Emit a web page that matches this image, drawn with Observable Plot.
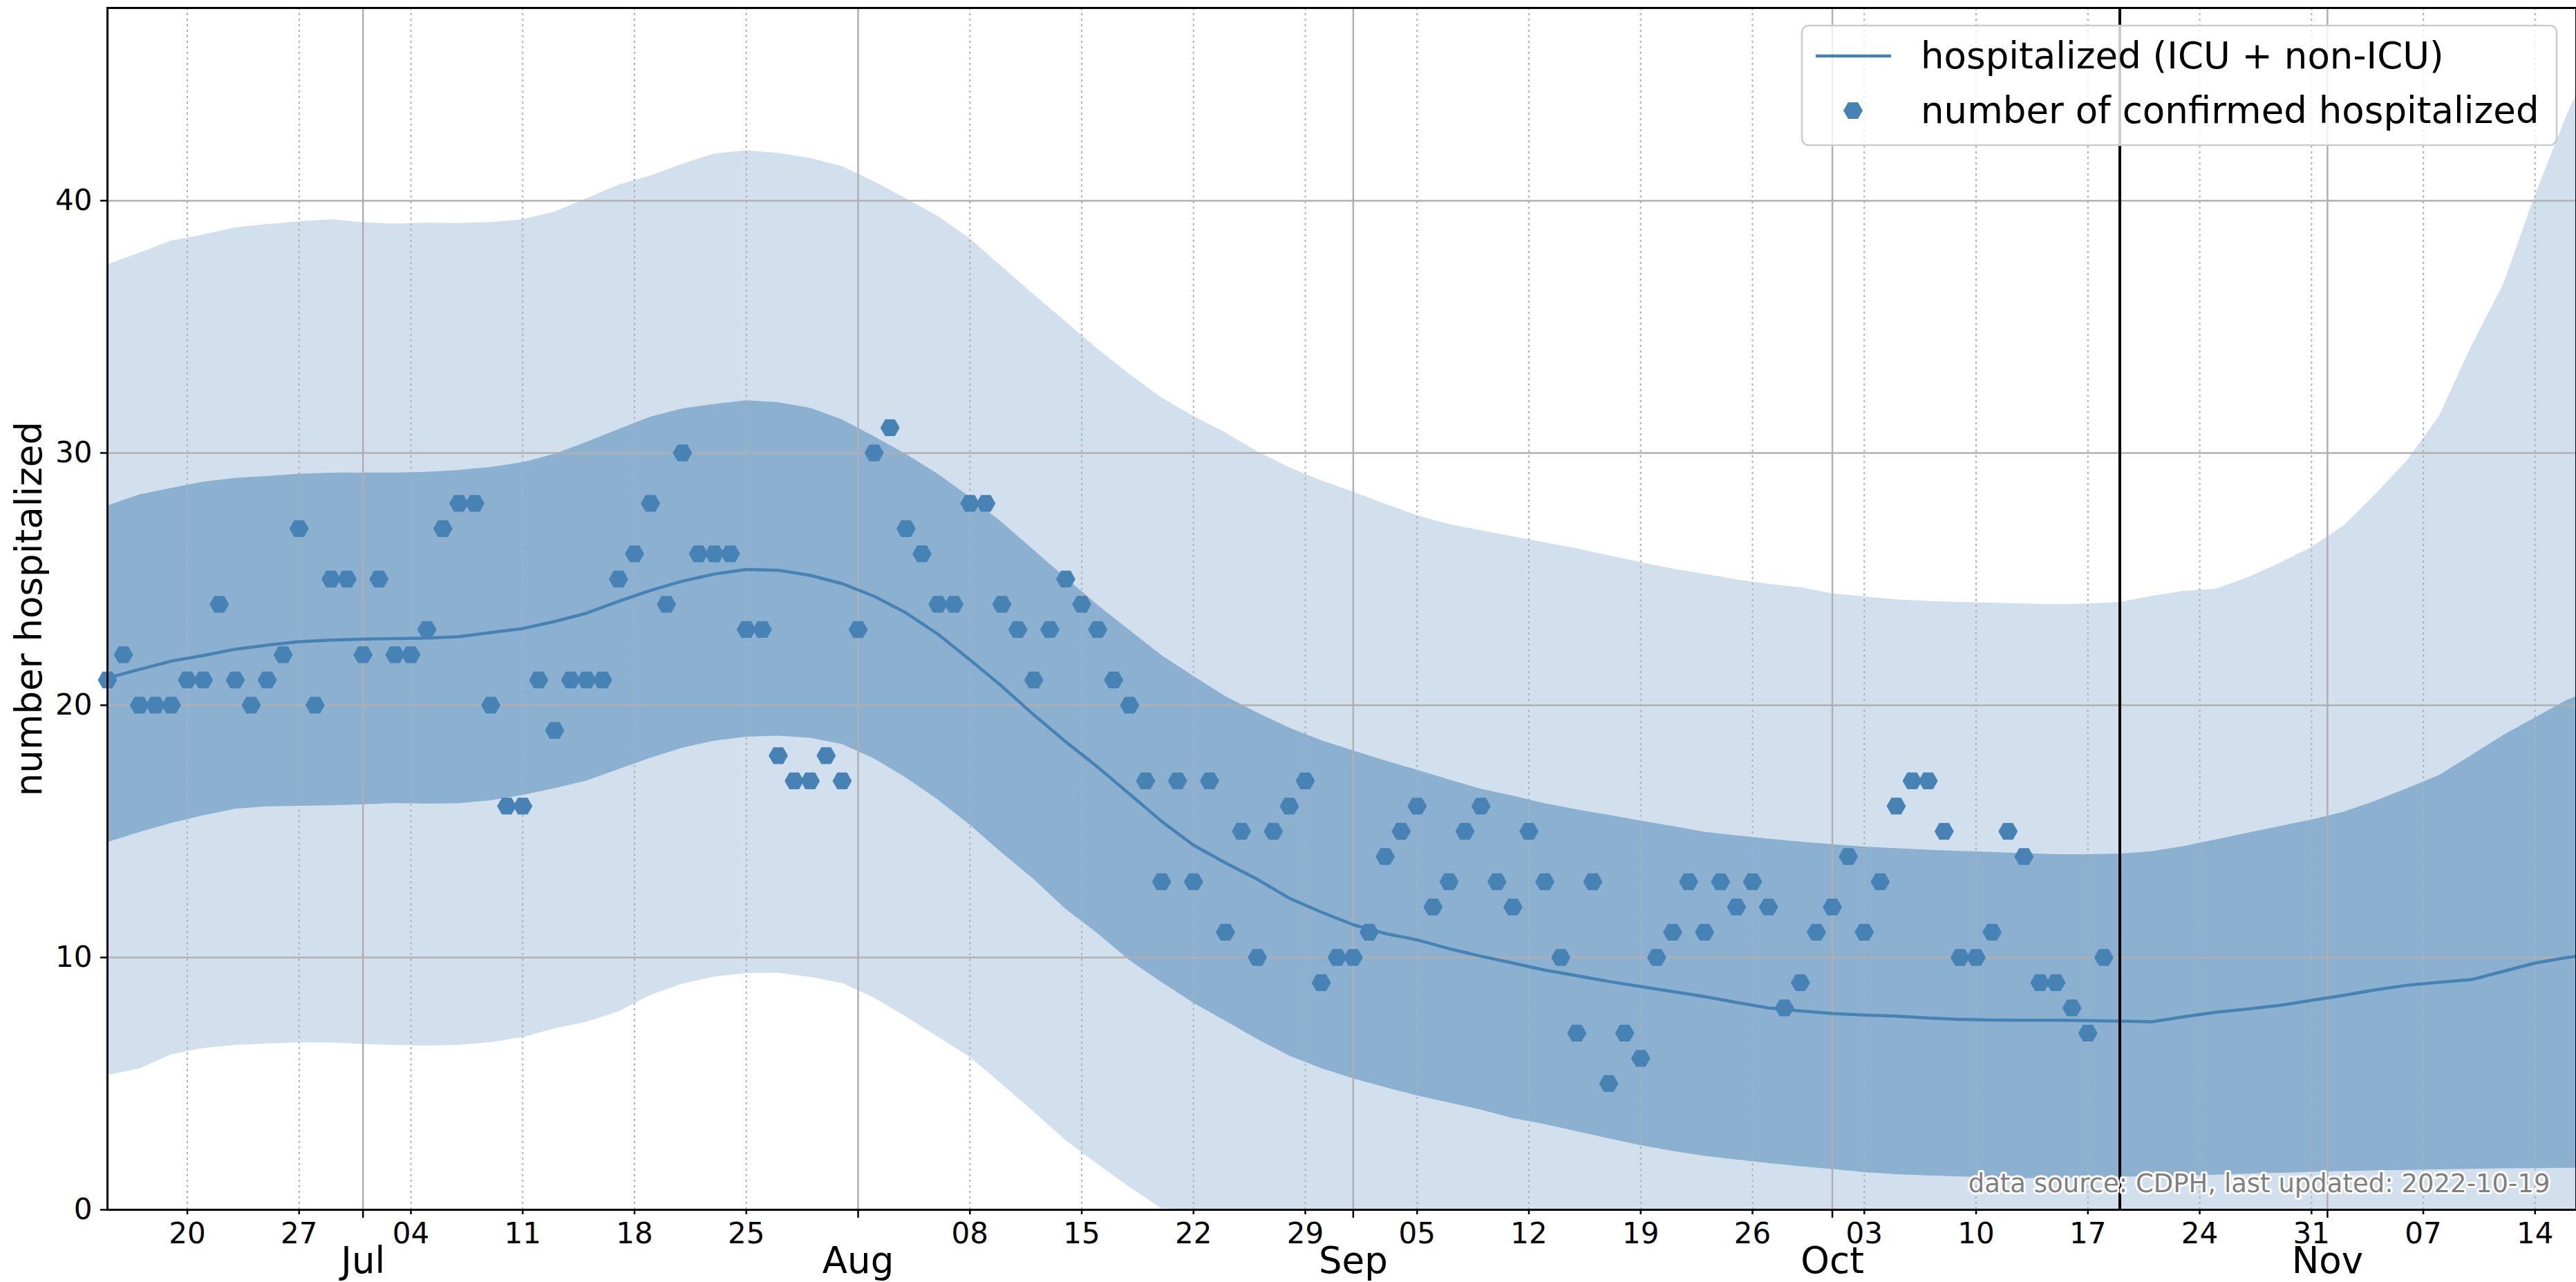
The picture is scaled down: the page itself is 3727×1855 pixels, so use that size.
<!DOCTYPE html>
<html>
<head>
<meta charset="utf-8">
<script src="https://cdn.jsdelivr.net/npm/d3@7"></script>
<script src="https://cdn.jsdelivr.net/npm/@observablehq/plot@0.6"></script>
<style>
html, body { margin: 0; padding: 0; background: #fff; }
#wrap { position: relative; width: 3727px; height: 1855px; font-family: "DejaVu Sans", sans-serif; }
#wrap > svg { display: block; }
</style>
</head>
<body>
<div id="wrap"></div>
<script>
// ---------------- data ----------------
const pointStartDate = "2022-06-15";
// daily confirmed hospitalized, Jun 15 .. Oct 18
const pointValues = [
  21,22,20,20,20,21,21,24,21,20,21,22,27,20,25,25,
  22,25,22,22,23,27,28,28,20,16,16,21,19,21,21,21,25,26,28,24,30,26,26,26,23,23,18,17,17,18,17,
  23,30,31,27,26,24,24,28,28,24,23,21,23,25,24,23,21,20,17,13,17,13,17,11,15,10,15,16,17,9,10,
  10,11,14,15,16,12,13,15,16,13,12,15,13,10,7,13,5,7,6,10,11,13,11,13,12,13,12,8,9,11,
  12,14,11,13,16,17,17,15,10,10,11,15,14,9,9,8,7,10
];

// model bands, sampled every 2 days from Jun 15 to Nov 16
const bandStartDate = "2022-06-15";
const bandStepDays = 2;
const bandUpper95 = [37.47,37.92,38.40,38.65,38.93,39.06,39.17,39.25,39.13,39.08,39.11,39.10,39.14,39.25,39.55,40.08,40.62,40.98,41.45,41.85,41.98,41.88,41.68,41.36,40.75,40.08,39.38,38.50,37.38,36.28,35.20,34.12,33.12,32.19,31.45,30.80,30.05,29.42,28.90,28.45,27.98,27.52,27.17,26.92,26.68,26.44,26.21,25.93,25.66,25.40,25.20,24.98,24.80,24.66,24.42,24.30,24.18,24.12,24.08,24.05,24.02,23.99,24.02,24.08,24.32,24.52,24.60,25.05,25.62,26.25,27.10,28.35,29.70,31.45,34.20,36.65,40.20,43.40];
const bandUpper50 = [27.90,28.34,28.60,28.85,29.00,29.07,29.16,29.20,29.21,29.21,29.24,29.31,29.43,29.62,29.95,30.42,30.93,31.42,31.75,31.93,32.07,32.00,31.78,31.32,30.65,29.95,29.16,28.25,27.25,26.15,25.05,23.97,22.97,21.98,21.15,20.35,19.70,19.10,18.60,18.20,17.80,17.43,17.05,16.68,16.40,16.10,15.86,15.64,15.42,15.20,14.97,14.83,14.70,14.58,14.48,14.38,14.32,14.26,14.21,14.17,14.12,14.08,14.08,14.10,14.20,14.40,14.66,14.93,15.19,15.45,15.76,16.20,16.70,17.22,18.00,18.80,19.50,20.20];
const bandMedian = [21.08,21.42,21.75,21.97,22.22,22.38,22.52,22.58,22.62,22.64,22.66,22.72,22.88,23.04,23.32,23.65,24.12,24.55,24.92,25.20,25.38,25.35,25.15,24.82,24.32,23.66,22.82,21.80,20.75,19.62,18.55,17.55,16.48,15.40,14.45,13.75,13.10,12.35,11.80,11.30,10.95,10.70,10.35,10.05,9.78,9.50,9.28,9.05,8.85,8.65,8.45,8.22,8.00,7.88,7.78,7.72,7.68,7.60,7.55,7.52,7.51,7.51,7.50,7.48,7.45,7.65,7.83,7.96,8.10,8.30,8.50,8.72,8.90,9.02,9.12,9.45,9.78,10.00];
const bandLower50 = [14.56,14.96,15.32,15.62,15.88,15.98,16.00,16.02,16.06,16.11,16.09,16.10,16.22,16.43,16.70,17.00,17.45,17.90,18.30,18.58,18.74,18.78,18.70,18.45,17.88,17.12,16.25,15.25,14.15,13.10,11.92,10.95,9.88,9.02,8.20,7.48,6.76,6.10,5.60,5.20,4.85,4.52,4.24,3.96,3.62,3.38,3.10,2.82,2.55,2.32,2.12,1.98,1.84,1.71,1.60,1.48,1.40,1.35,1.31,1.27,1.24,1.25,1.27,1.30,1.32,1.35,1.38,1.42,1.45,1.49,1.52,1.55,1.57,1.59,1.61,1.63,1.64,1.65];
const bandLower95 = [5.33,5.59,6.15,6.40,6.52,6.58,6.62,6.62,6.56,6.52,6.49,6.52,6.63,6.83,7.18,7.44,7.85,8.50,8.95,9.23,9.37,9.38,9.22,8.98,8.40,7.65,6.85,6.05,4.98,3.88,2.75,1.80,0.90,0.05,
  0,0,0,0,0,0,0,0,0,0,0,0,0,0,0,0,0,0,0,0,0,0,0,0,0,0,0,0,0,0,0,0,0,0,0,0,0,0,0,0,0,0,0,0];
// values at the right edge of the chart (Nov 16, afternoon)
const bandEdgeDate = "2022-11-16T14:00:00Z";
const bandEdge = {u95: 44.2, u50: 20.35, med: 10.04, l50: 1.65, l95: 0};

const lastUpdated = "2022-10-19";
const weekTickDates = ["2022-06-20","2022-06-27","2022-07-04","2022-07-11","2022-07-18","2022-07-25",
  "2022-08-08","2022-08-15","2022-08-22","2022-08-29","2022-09-05","2022-09-12","2022-09-19","2022-09-26",
  "2022-10-03","2022-10-10","2022-10-17","2022-10-24","2022-10-31","2022-11-07","2022-11-14"];
const monthTickDates = ["2022-07-01","2022-08-01","2022-09-01","2022-10-01","2022-11-01"];
const yTicks = [0, 10, 20, 30, 40];
const xDomain = ["2022-06-15T00:00:00Z", "2022-11-16T14:00:00Z"];
const yDomain = [0, 47.64];

const yLabel = "number hospitalized";
const legendLine = "hospitalized (ICU + non-ICU)";
const legendDots = "number of confirmed hospitalized";
const captionText = "data source: CDPH, last updated: 2022-10-19";

// ---------------- build ----------------
const parse = d3.utcParse("%Y-%m-%d");
const pStart = parse(pointStartDate);
const points = pointValues.map((v, i) => ({date: d3.utcDay.offset(pStart, i), value: v}));
const bStart = parse(bandStartDate);
const bands = bandMedian.map((m, i) => ({
  date: d3.utcDay.offset(bStart, i * bandStepDays),
  u95: bandUpper95[i], u50: bandUpper50[i], med: m, l50: bandLower50[i], l95: bandLower95[i]
}));
bands.push({date: new Date(bandEdgeDate), ...bandEdge});

const weekTicks = weekTickDates.map(parse);
const monthTicks = monthTickDates.map(parse);

const steel = "#4682b4";
const light = "#d2e0ed";
const dark = "#8bb0d0";
const gridColor = "#b0b0b0";

const hexFlat = {
  draw(ctx, size) {
    const R = Math.sqrt(size / Math.PI);
    const h = R * Math.sqrt(3) / 2;
    ctx.moveTo(R, 0);
    ctx.lineTo(R / 2, h);
    ctx.lineTo(-R / 2, h);
    ctx.lineTo(-R, 0);
    ctx.lineTo(-R / 2, -h);
    ctx.lineTo(R / 2, -h);
    ctx.closePath();
  }
};

const chart = Plot.plot({
  width: 3727,
  height: 1855,
  marginLeft: 155,
  marginRight: 0,
  marginTop: 11,
  marginBottom: 105,
  style: {fontFamily: "DejaVu Sans", fontSize: "42px", background: "white", color: "black"},
  x: {type: "utc", domain: xDomain.map(d => new Date(d)), axis: null},
  y: {domain: yDomain, axis: null},
  marks: [
    Plot.areaY(bands, {x: "date", y1: "l95", y2: "u95", fill: light, clip: true}),
    Plot.areaY(bands, {x: "date", y1: "l50", y2: "u50", fill: dark, clip: true}),
    Plot.gridY(yTicks, {stroke: gridColor, strokeOpacity: 1, strokeWidth: 2.5}),
    Plot.gridX(monthTicks, {stroke: gridColor, strokeOpacity: 1, strokeWidth: 2.5}),
    Plot.gridX(weekTicks, {stroke: gridColor, strokeOpacity: 1, strokeWidth: 2, strokeDasharray: "3,5"}),
    Plot.lineY(bands, {x: "date", y: "med", stroke: steel, strokeWidth: 4.5, clip: true}),
    Plot.dot(points, {x: "date", y: "value", symbol: hexFlat, r: 14, fill: steel, stroke: null}),
    Plot.ruleX([parse(lastUpdated)], {stroke: "black", strokeWidth: 4}),
    Plot.frame({stroke: "black", strokeWidth: 3}),
    Plot.axisX({ticks: weekTicks, tickFormat: d3.utcFormat("%d"), tickSize: 7, tickPadding: 12, fontSize: 42, anchor: "bottom", label: null, strokeWidth: 2.5}),
    Plot.axisX({ticks: monthTicks, tickFormat: d3.utcFormat("%b"), tickSize: 12, tickPadding: 42, fontSize: 53, anchor: "bottom", label: null, strokeWidth: 2.5}),
    Plot.axisY({ticks: yTicks, tickSize: 10, tickPadding: 12, fontSize: 42, anchor: "left", label: null, strokeWidth: 2.5}),
    Plot.text([yLabel], {frameAnchor: "left", dx: -112, rotate: -90, fontSize: 53, textAnchor: "middle", lineAnchor: "middle", fill: "black"}),
    Plot.text([captionText], {frameAnchor: "bottom-right", dx: -38, dy: -37, fontSize: 37, textAnchor: "end", lineAnchor: "middle", fill: "#7f7f7f", stroke: "white", strokeWidth: 6, paintOrder: "stroke"})
  ]
});
document.getElementById("wrap").appendChild(chart);

// legend (inside the plot area, top right)
const leg = d3.select("#wrap").append("svg")
  .attr("width", 1100).attr("height", 182)
  .style("position", "absolute").style("left", "2603px").style("top", "33px")
  .style("font-family", "DejaVu Sans");
leg.append("rect").attr("x", 4).attr("y", 4).attr("width", 1092).attr("height", 173)
  .attr("rx", 10).attr("fill", "white").attr("fill-opacity", 0.8)
  .attr("stroke", "#cccccc").attr("stroke-width", 2.5);
leg.append("line").attr("x1", 24).attr("x2", 133).attr("y1", 48).attr("y2", 48)
  .attr("stroke", steel).attr("stroke-width", 4.5);
const hp = d3.path(); hexFlat.draw(hp, 14 * 14 * Math.PI);
leg.append("path").attr("d", hp.toString()).attr("transform", "translate(78,127)").attr("fill", steel);
leg.append("text").attr("x", 176).attr("y", 66).attr("font-size", 53).text(legendLine);
leg.append("text").attr("x", 176).attr("y", 145).attr("font-size", 53).text(legendDots);
</script>
</body>
</html>
